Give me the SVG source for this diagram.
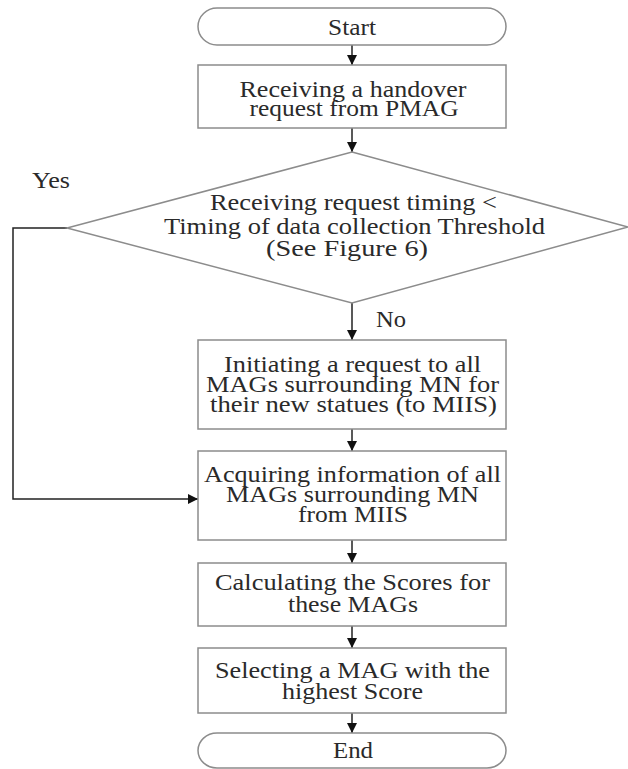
<svg xmlns="http://www.w3.org/2000/svg" width="628" height="769" viewBox="0 0 628 769">
  <defs>
    <marker id="arrow" viewBox="0 0 10 10" refX="10" refY="5" markerWidth="10" markerHeight="10" markerUnits="userSpaceOnUse" orient="auto">
      <path d="M0,0 L10,5 L0,10 Z" fill="#111"/>
    </marker>
    <style>
      .shape { fill: #fff; stroke: #8c8c8c; stroke-width: 1.5; }
      .label { font-family: "Liberation Serif", "DejaVu Serif", serif; font-size: 23px; fill: #2a2a2a; text-anchor: middle; }
      .side { font-family: "Liberation Serif", "DejaVu Serif", serif; font-size: 23px; fill: #2a2a2a; }
      .conn { fill: none; stroke: #222; stroke-width: 1.5; marker-end: url(#arrow); }
    </style>
  </defs>
  <rect width="628" height="769" fill="#fff"/>

  <g id="connectors">
    <line class="conn" x1="352" y1="45" x2="352" y2="65"/>
    <line class="conn" x1="352" y1="128" x2="352" y2="152"/>
    <line class="conn" x1="352" y1="303" x2="352" y2="340"/>
    <line class="conn" x1="352" y1="429" x2="352" y2="451"/>
    <polyline class="conn" points="67,228 13,228 13,499 198,499"/>
    <line class="conn" x1="352" y1="540" x2="352" y2="563"/>
    <line class="conn" x1="352" y1="626" x2="352" y2="648"/>
    <line class="conn" x1="352" y1="713" x2="352" y2="733"/>
    <text class="side" x="32" y="188" textLength="38" lengthAdjust="spacingAndGlyphs">Yes</text>
    <text class="side" x="376" y="327" textLength="30" lengthAdjust="spacingAndGlyphs">No</text>
  </g>

  <g id="start">
    <rect class="shape" x="198" y="8" width="308" height="37" rx="19" ry="18.5"/>
    <text class="label" x="352" y="35" textLength="48" lengthAdjust="spacingAndGlyphs">Start</text>
  </g>

  <g id="receive-request">
    <rect class="shape" x="198" y="65" width="308" height="63"/>
    <text class="label" x="353" y="97" textLength="227" lengthAdjust="spacingAndGlyphs">Receiving a handover</text>
    <text class="label" x="354" y="116" textLength="209" lengthAdjust="spacingAndGlyphs">request from PMAG</text>
  </g>

  <g id="timing-check">
    <polygon class="shape" points="352,152 628,227 352,303 67,228"/>
    <text class="label" x="353.5" y="210" textLength="287" lengthAdjust="spacingAndGlyphs">Receiving request timing &lt;</text>
    <text class="label" x="354.5" y="233.5" textLength="381" lengthAdjust="spacingAndGlyphs">Timing of data collection Threshold</text>
    <text class="label" x="347" y="256" textLength="162" lengthAdjust="spacingAndGlyphs">(See Figure 6)</text>
  </g>

  <g id="initiate-request">
    <rect class="shape" x="198" y="340" width="308" height="89"/>
    <text class="label" x="352.5" y="372" textLength="257" lengthAdjust="spacingAndGlyphs">Initiating a request to all</text>
    <text class="label" x="352.5" y="392" textLength="293" lengthAdjust="spacingAndGlyphs">MAGs surrounding MN for</text>
    <text class="label" x="353.5" y="412" textLength="287" lengthAdjust="spacingAndGlyphs">their new statues (to MIIS)</text>
  </g>

  <g id="acquire-info">
    <rect class="shape" x="198" y="451" width="308" height="89"/>
    <text class="label" x="352.5" y="482" textLength="297" lengthAdjust="spacingAndGlyphs">Acquiring information of all</text>
    <text class="label" x="352.5" y="502" textLength="253" lengthAdjust="spacingAndGlyphs">MAGs surrounding MN</text>
    <text class="label" x="353" y="522" textLength="110" lengthAdjust="spacingAndGlyphs">from MIIS</text>
  </g>

  <g id="calculate-scores">
    <rect class="shape" x="198" y="563" width="308" height="63"/>
    <text class="label" x="352.5" y="590" textLength="275" lengthAdjust="spacingAndGlyphs">Calculating the Scores for</text>
    <text class="label" x="353" y="611.5" textLength="130" lengthAdjust="spacingAndGlyphs">these MAGs</text>
  </g>

  <g id="select-mag">
    <rect class="shape" x="198" y="648" width="308" height="65"/>
    <text class="label" x="352.5" y="678" textLength="275" lengthAdjust="spacingAndGlyphs">Selecting a MAG with the</text>
    <text class="label" x="352.5" y="698.5" textLength="141" lengthAdjust="spacingAndGlyphs">highest Score</text>
  </g>

  <g id="end">
    <rect class="shape" x="198" y="733" width="308" height="35" rx="19" ry="17.5"/>
    <text class="label" x="353" y="758" textLength="40" lengthAdjust="spacingAndGlyphs">End</text>
  </g>
</svg>
